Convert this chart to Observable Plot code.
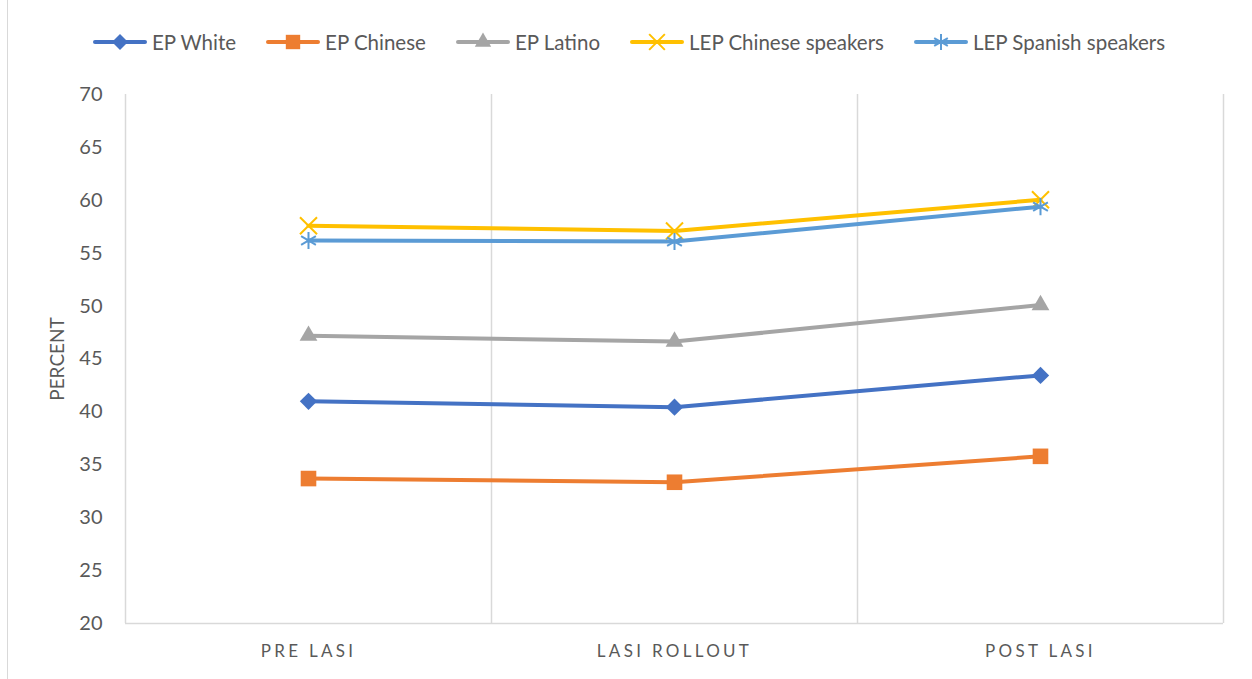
<!DOCTYPE html>
<html>
<head>
<meta charset="utf-8">
<script src="https://cdn.jsdelivr.net/npm/d3@7"></script>
<script src="https://cdn.jsdelivr.net/npm/@observablehq/plot@0.6"></script>
<style>
  body { margin: 0; background: #fff; font-family: Lato, "Open Sans", sans-serif; }
  #wrap { position: relative; width: 1252px; height: 679px; overflow: hidden; background: #fff; }
  #border { position: absolute; left: 7px; top: 0; width: 1px; height: 679px; background: #d9d9d9; }
  #legend { height: 80px; display: flex; justify-content: center; align-items: center; padding-left: 6px; box-sizing: border-box; padding-top: 4px; }
  .item { display: flex; align-items: center; margin: 0 15px; color: #595959; font-size: 20.5px; }
  .item svg { margin-right: 5px; }
  .x-tick text { letter-spacing: 3.3px; }
</style>
</head>
<body>
<div id="wrap">
  <div id="border"></div>
  <div id="legend"></div>
  <div id="chart"></div>
</div>
<script>
// ---- data ----
const categories = ["PRE LASI", "LASI ROLLOUT", "POST LASI"];
const seriesNames = ["EP White", "EP Chinese", "EP Latino", "LEP Chinese speakers", "LEP Spanish speakers"];
const epWhite = [41.0, 40.45, 43.45];
const epChinese = [33.7, 33.35, 35.8];
const epLatino = [47.2, 46.65, 50.1];
const lepChinese = [57.6, 57.1, 60.05];
const lepSpanish = [56.2, 56.1, 59.4];
const yTicks = [20, 25, 30, 35, 40, 45, 50, 55, 60, 65, 70];
const yLabel = "PERCENT";

// ---- styles ----
const colors = ["#4472C4", "#ED7D31", "#A5A5A5", "#FFC000", "#5B9BD5"];
const symbols = ["diamond2", "square", "triangle", "times", "asterisk"];
const filled = [true, true, true, false, false];
const radii = [7.8, 8.8, 6.6, 7.8, 8.1];

const seriesValues = [epWhite, epChinese, epLatino, lepChinese, lepSpanish];
const rows = [];
seriesValues.forEach((vals, s) => vals.forEach((v, i) => rows.push({series: seriesNames[s], s, i, value: v})));

// ---- legend ----
const legend = document.getElementById("legend");
seriesNames.forEach((name, s) => {
  const item = document.createElement("div");
  item.className = "item";
  const sym = d3.symbol().type({diamond2: d3.symbolDiamond2, square: d3.symbolSquare, triangle: d3.symbolTriangle, times: d3.symbolTimes, asterisk: d3.symbolAsterisk}[symbols[s]]).size(Math.PI * radii[s] * radii[s] * 0.85)();
  item.innerHTML = `<svg width="54" height="22"><line x1="2" x2="52" y1="11" y2="11" stroke="${colors[s]}" stroke-width="4" stroke-linecap="round"/>` +
    `<path transform="translate(27,11)" d="${sym}" fill="${filled[s] ? colors[s] : "none"}" stroke="${filled[s] ? "none" : colors[s]}" stroke-width="2"/></svg><span>${name}</span>`;
  legend.appendChild(item);
});

// ---- chart ----
const gridX = d3.range(categories.length + 1).map(i => i - 0.5);
const marks = [
  Plot.ruleX(gridX, {x: d => d, y1: yTicks[0], y2: yTicks[yTicks.length - 1], stroke: "#d9d9d9", strokeWidth: 1.5}),
  Plot.ruleY([yTicks[0]], {stroke: "#d9d9d9", strokeWidth: 1.5}),
  Plot.axisY({ticks: yTicks, tickSize: 0, tickPadding: 23, fontSize: 20, label: null}),
  Plot.axisX({ticks: d3.range(categories.length), tickFormat: i => categories[i], tickSize: 0, tickPadding: 21, fontSize: 17, label: null, className: "x-tick"}),
  Plot.text([yLabel], {frameAnchor: "left", textAnchor: "middle", rotate: -90, dx: -68, fontSize: 19, fill: "#595959", text: d => d})
];
seriesNames.forEach((name, s) => {
  const data = rows.filter(r => r.s === s);
  marks.push(Plot.line(data, {x: "i", y: "value", stroke: colors[s], strokeWidth: 4, strokeLinejoin: "round", strokeLinecap: "round"}));
  marks.push(Plot.dot(data, {
    x: "i", y: "value", symbol: () => symbols[s], r: radii[s],
    fill: filled[s] ? colors[s] : "none",
    stroke: filled[s] ? "none" : colors[s],
    strokeWidth: 2
  }));
});

const chart = Plot.plot({
  width: 1252,
  height: 599,
  marginTop: 14,
  marginBottom: 56,
  marginLeft: 125,
  marginRight: 29,
  style: {fontFamily: "Lato, 'Open Sans', sans-serif", color: "#595959", background: "transparent"},
  x: {type: "linear", domain: [-0.5, categories.length - 0.5]},
  y: {domain: [yTicks[0], yTicks[yTicks.length - 1]]},
  symbol: {type: "identity"},
  marks
});
document.getElementById("chart").appendChild(chart);
</script>
</body>
</html>
